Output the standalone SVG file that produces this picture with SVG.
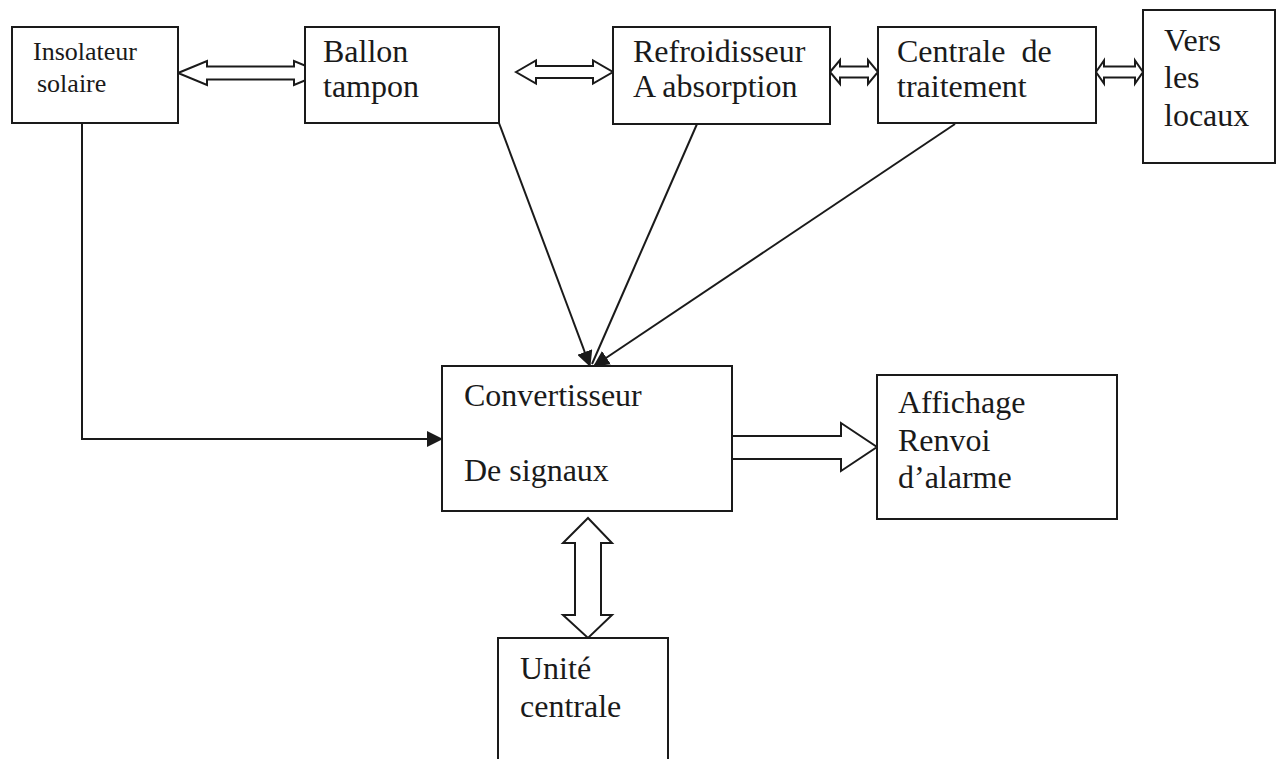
<svg xmlns="http://www.w3.org/2000/svg" width="1283" height="759" viewBox="0 0 1283 759">
  <style>
    .box { fill: #ffffff; stroke: #1a1a1a; stroke-width: 2; }
    .lbl { font-family: "Liberation Serif", "Times New Roman", serif; font-size: 32px; fill: #1a1a1a; }
    .small { font-size: 26px; }
    .hollow { fill: #ffffff; stroke: #1a1a1a; stroke-width: 2; stroke-linejoin: miter; }
    .wire { fill: none; stroke: #1a1a1a; stroke-width: 2; }
  </style>
  <defs>
    <marker id="solid" viewBox="0 0 16 16" refX="15" refY="8" markerWidth="16" markerHeight="16" markerUnits="userSpaceOnUse" orient="auto">
      <path d="M0,0 L16,8 L0,16 Z" fill="#1a1a1a"/>
    </marker>
  </defs>
  <rect width="1283" height="759" fill="#ffffff"/>

  <!-- connectors (drawn first so box fills hide arrow tips) -->
  <g id="connectors">
    <!-- hollow double arrows between the top blocks -->
    <polygon class="hollow" points="178,73 207,61 207,66.5 294,66.5 294,61 323,73 294,85 294,79.5 207,79.5 207,85"/>
    <polygon class="hollow" points="516,72 536,60.5 536,66 593,66 593,60.5 613,72 593,83.5 593,78 536,78 536,83.5"/>
    <polygon class="hollow" points="830,72 840,60 840,66.5 868,66.5 868,60 878,72 868,84 868,77.5 840,77.5 840,84"/>
    <polygon class="hollow" points="1096,72 1104,60.5 1104,66.5 1135,66.5 1135,60.5 1143,72 1135,83.5 1135,77.5 1104,77.5 1104,83.5"/>

    <!-- measurement lines converging on the converter -->
    <line class="wire" x1="499" y1="123" x2="590" y2="366" marker-end="url(#solid)"/>
    <line class="wire" x1="697" y1="124" x2="592" y2="364"/>
    <line class="wire" x1="955" y1="124" x2="594" y2="366" marker-end="url(#solid)"/>

    <!-- solar collector signal -->
    <polyline class="wire" points="82,123 82,439 442,439" marker-end="url(#solid)"/>

    <!-- output to display / alarm -->
    <polyline class="hollow" points="732,436 841,436 841,423 877,447 841,471 841,459 732,459"/>

    <!-- link with the central unit -->
    <polygon class="hollow" points="588,518 612,543 601,543 601,615 612,615 588,638 563,615 575,615 575,543 563,543"/>
  </g>

  <g id="insolateur">
    <rect class="box" x="12" y="27" width="166" height="96"/>
    <text class="lbl small" x="33" y="60">Insolateur</text>
    <text class="lbl small" x="37" y="92">solaire</text>
  </g>

  <g id="ballon">
    <rect class="box" x="305" y="27" width="194" height="96"/>
    <text class="lbl" x="323" y="62">Ballon</text>
    <text class="lbl" x="323" y="97">tampon</text>
  </g>

  <g id="refroidisseur">
    <rect class="box" x="613" y="27" width="217" height="97"/>
    <text class="lbl" x="633" y="62">Refroidisseur</text>
    <text class="lbl" x="633" y="97">A absorption</text>
  </g>

  <g id="centrale">
    <rect class="box" x="878" y="27" width="218" height="96"/>
    <text class="lbl" x="897" y="62" xml:space="preserve">Centrale  de</text>
    <text class="lbl" x="897" y="97">traitement</text>
  </g>

  <g id="locaux">
    <rect class="box" x="1143" y="10" width="132" height="153"/>
    <text class="lbl" x="1164" y="51">Vers</text>
    <text class="lbl" x="1164" y="88">les</text>
    <text class="lbl" x="1164" y="126">locaux</text>
  </g>

  <g id="convertisseur">
    <rect class="box" x="442" y="366" width="290" height="145"/>
    <text class="lbl" x="464" y="406">Convertisseur</text>
    <text class="lbl" x="464" y="481">De signaux</text>
  </g>

  <g id="affichage">
    <rect class="box" x="877" y="375" width="240" height="144"/>
    <text class="lbl" x="898" y="413">Affichage</text>
    <text class="lbl" x="898" y="451">Renvoi</text>
    <text class="lbl" x="898" y="488">d’alarme</text>
  </g>

  <g id="unite">
    <rect class="box" x="498" y="638" width="170" height="140"/>
    <text class="lbl" x="520" y="679">Unité</text>
    <text class="lbl" x="520" y="717">centrale</text>
  </g>
</svg>
